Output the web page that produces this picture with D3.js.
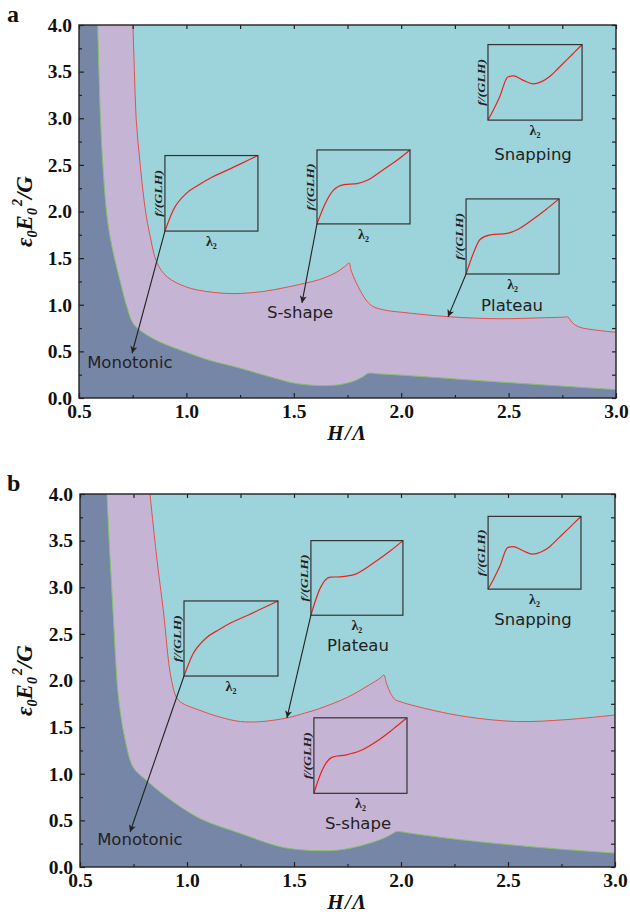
<!DOCTYPE html>
<html>
<head>
<meta charset="utf-8">
<script src="https://cdn.jsdelivr.net/npm/d3@7"></script>
<style>
body { margin: 0; background: #fff; }
svg text { font-family: "Liberation Serif", "Times New Roman", serif; }
.note { font-family: "DejaVu Sans", sans-serif; font-size: 16.5px; fill: #222; }
</style>
</head>
<body>
<svg id="chart" width="630" height="917"></svg>
<script>
var xTicks = [0.5, 1.0, 1.5, 2.0, 2.5, 3.0];
var xMinorTicks = [0.75, 1.25, 1.75, 2.25, 2.75];
var yTicks = [0.0, 0.5, 1.0, 1.5, 2.0, 2.5, 3.0, 3.5, 4.0];
var yMinorTicks = [0.25, 0.75, 1.25, 1.75, 2.25, 2.75, 3.25, 3.75];

// boundary monotonic / S-shape (green) and S-shape / snapping (red), panel a
var greenA = [[0.587, 4.0], [0.600, 3.0], [0.611, 2.5], [0.628, 2.0], [0.643, 1.75], [0.665, 1.5],
    [0.692, 1.25], [0.72, 1.0], [0.752, 0.80], [0.80, 0.70], [0.877, 0.60], [1.0, 0.49], [1.1, 0.41],
    [1.25, 0.32], [1.4, 0.22], [1.5, 0.16], [1.6, 0.135], [1.68, 0.135], [1.74, 0.155], [1.79, 0.19],
    [1.83, 0.24], [1.845, 0.265], [1.9, 0.258], [2.0, 0.245], [2.5, 0.165], [3.0, 0.09]];
var redA = [[0.751, 4.0], [0.758, 3.5], [0.766, 3.0], [0.785, 2.5], [0.81, 2.0], [0.83, 1.75], [0.863, 1.45],
    [0.91, 1.30], [1.0, 1.19], [1.1, 1.14], [1.22, 1.12], [1.35, 1.14], [1.45, 1.18], [1.55, 1.23],
    [1.62, 1.27], [1.7, 1.35], [1.745, 1.425], [1.757, 1.45], [1.768, 1.36], [1.79, 1.24], [1.81, 1.15],
    [1.84, 1.04], [1.87, 0.98], [1.93, 0.94], [2.0, 0.92], [2.23, 0.87], [2.46, 0.85], [2.65, 0.86],
    [2.765, 0.868], [2.775, 0.87], [2.80, 0.80], [2.83, 0.76], [2.9, 0.73], [3.0, 0.705]];

// panel b
var greenB = [[0.626, 4.0], [0.636, 3.5], [0.648, 3.0], [0.66, 2.5], [0.667, 2.2], [0.676, 1.9], [0.689, 1.65],
    [0.712, 1.35], [0.748, 1.07], [0.81, 0.93], [0.905, 0.75], [1.06, 0.52], [1.25, 0.36], [1.43, 0.22], [1.53, 0.185],
    [1.62, 0.175], [1.70, 0.18], [1.78, 0.21], [1.86, 0.26], [1.93, 0.32], [1.97, 0.37], [1.98, 0.38],
    [2.05, 0.36], [2.25, 0.30], [2.5, 0.24], [2.75, 0.19], [3.0, 0.15]];
var redB = [[0.827, 4.0], [0.86, 3.29], [0.889, 2.76], [0.928, 2.0], [0.96, 1.79],
    [1.06, 1.68], [1.15, 1.61], [1.25, 1.56], [1.35, 1.56], [1.47, 1.60], [1.55, 1.65], [1.62, 1.70],
    [1.75, 1.82], [1.85, 1.95], [1.905, 2.03], [1.92, 2.06], [1.932, 1.97], [1.95, 1.87], [1.97, 1.80],
    [2.0, 1.77], [2.15, 1.68], [2.31, 1.61], [2.54, 1.56], [2.77, 1.58], [3.0, 1.63]];

// inset curves, normalised to the inset box (lambda2, f/(GLH))
var insetMonotonic = [[0, 0], [0.09, 0.28], [0.23, 0.5], [0.375, 0.62], [0.5, 0.71], [0.66, 0.8], [0.83, 0.9], [1, 1]];
var insetSShapeA = [[0, 0], [0.09, 0.28], [0.18, 0.46], [0.29, 0.53], [0.43, 0.545], [0.54, 0.59], [0.71, 0.73], [0.86, 0.86], [1, 1]];
var insetPlateauA = [[0, 0], [0.08, 0.28], [0.15, 0.46], [0.26, 0.52], [0.44, 0.54], [0.55, 0.59], [0.72, 0.73], [0.86, 0.86], [1, 1]];
var insetSnapping = [[0, 0], [0.06, 0.14], [0.125, 0.31], [0.21, 0.57], [0.27, 0.585], [0.37, 0.53], [0.48, 0.48],
    [0.57, 0.51], [0.66, 0.58], [0.75, 0.69], [0.84, 0.8], [0.92, 0.9], [1, 1]];
var insetPlateauB = [[0, 0], [0.1, 0.36], [0.21, 0.51], [0.32, 0.515], [0.46, 0.54], [0.68, 0.7], [0.85, 0.85], [1, 1]];
var insetSShapeB = [[0, 0], [0.06, 0.22], [0.13, 0.4], [0.2, 0.48], [0.35, 0.51], [0.49, 0.56], [0.7, 0.71], [0.85, 0.85], [1, 1]];

var colors = { mono: "#7686a7", sshape: "#c5b4d3", snap: "#9dd3da", red: "#e5504c", green: "#86c06e", ink: "#222" };

var svg = d3.select("#chart");
var defs = svg.append("defs");
defs.append("marker")
    .attr("id", "arrow")
    .attr("viewBox", "0 0 10 10")
    .attr("refX", 10)
    .attr("refY", 5)
    .attr("markerWidth", 10)
    .attr("markerHeight", 7)
    .attr("markerUnits", "userSpaceOnUse")
    .attr("orient", "auto")
    .append("path")
    .attr("d", "M0,0L10,5L0,10L2.5,5Z")
    .attr("fill", colors.ink);

function drawInset(g, x, y, inset) {
    var left = x(inset.x0), right = x(inset.x1), top = y(inset.y1), bottom = y(inset.y0);
    var bx = d3.scaleLinear().domain([0, 1]).range([left, right]);
    var by = d3.scaleLinear().domain([0, 1]).range([bottom, top]);

    g.append("path")
        .datum(inset.curve)
        .attr("fill", "none")
        .attr("stroke", "#e8241c")
        .attr("stroke-width", 1.2)
        .attr("d", d3.line().x(function (d) { return bx(d[0]); }).y(function (d) { return by(d[1]); }).curve(d3.curveMonotoneX));

    g.append("rect")
        .attr("x", left)
        .attr("y", top)
        .attr("width", right - left)
        .attr("height", bottom - top)
        .attr("fill", "none")
        .attr("stroke", "#333")
        .attr("stroke-width", 1.2);

    g.append("text")
        .attr("transform", "translate(" + (left - 3) + "," + ((top + bottom) / 2) + ") rotate(-90)")
        .attr("text-anchor", "middle")
        .attr("font-size", 10)
        .attr("font-weight", "bold")
        .attr("font-style", "italic")
        .attr("textLength", 47)
        .attr("lengthAdjust", "spacingAndGlyphs")
        .attr("fill", colors.ink)
        .text("f/(GLH)");

    var lam = g.append("text")
        .attr("x", (left + right) / 2)
        .attr("y", bottom + 15)
        .attr("text-anchor", "middle")
        .attr("font-size", 14)
        .attr("font-weight", "bold")
        .attr("fill", colors.ink);
    lam.append("tspan").text("λ");
    lam.append("tspan").attr("font-size", 8).attr("dy", 3).text("2");

    if (inset.label) {
        g.append("text")
            .attr("class", "note")
            .attr("x", x(inset.label[0]))
            .attr("y", y(inset.label[1]))
            .attr("text-anchor", "middle")
            .text(inset.text);
    }
    if (inset.arrow) {
        g.append("line")
            .attr("x1", left)
            .attr("y1", bottom)
            .attr("x2", x(inset.arrow[0]))
            .attr("y2", y(inset.arrow[1]))
            .attr("stroke", colors.ink)
            .attr("stroke-width", 1.1)
            .attr("marker-end", "url(#arrow)");
    }
}

function regionPath(line, pts, x, y) {
    return line(pts) + "L" + x(3.0) + "," + y(0) + "L" + x(0.5) + "," + y(0) + "L" + x(0.5) + "," + y(4.0) + "Z";
}

function drawPanel(cfg) {
    var x = d3.scaleLinear().domain([0.5, 3.0]).range([cfg.left, cfg.right]);
    var y = d3.scaleLinear().domain([0, 4.0]).range([cfg.bottom, cfg.top]);
    var g = svg.append("g");

    defs.append("clipPath").attr("id", "clip-" + cfg.letter)
        .append("rect")
        .attr("x", cfg.left).attr("y", cfg.top)
        .attr("width", cfg.right - cfg.left).attr("height", cfg.bottom - cfg.top);

    var plot = g.append("g").attr("clip-path", "url(#clip-" + cfg.letter + ")");
    var line = d3.line().x(function (d) { return x(d[0]); }).y(function (d) { return y(d[1]); })
        .curve(d3.curveCatmullRom.alpha(0.5));

    plot.append("rect")
        .attr("x", cfg.left).attr("y", cfg.top)
        .attr("width", cfg.right - cfg.left).attr("height", cfg.bottom - cfg.top)
        .attr("fill", colors.snap);
    plot.append("path").attr("d", regionPath(line, cfg.red, x, y)).attr("fill", colors.sshape);
    plot.append("path").attr("d", regionPath(line, cfg.green, x, y)).attr("fill", colors.mono);
    plot.append("path").attr("d", line(cfg.red)).attr("fill", "none").attr("stroke", colors.red).attr("stroke-width", 1);
    plot.append("path").attr("d", line(cfg.green)).attr("fill", "none").attr("stroke", colors.green).attr("stroke-width", 1);

    cfg.insets.forEach(function (inset) { drawInset(g, x, y, inset); });

    // axes, ticks pointing inward
    var fmt = d3.format(".1f");
    var axes = [
        { axis: d3.axisBottom(x).tickValues(xTicks).tickSize(-5).tickPadding(6).tickFormat(fmt), t: "translate(0," + cfg.bottom + ")" },
        { axis: d3.axisBottom(x).tickValues(xMinorTicks).tickSize(-3).tickFormat(""), t: "translate(0," + cfg.bottom + ")" },
        { axis: d3.axisTop(x).tickValues(xTicks.concat(xMinorTicks)).tickSize(-4).tickFormat(""), t: "translate(0," + cfg.top + ")" },
        { axis: d3.axisLeft(y).tickValues(yTicks).tickSize(-5).tickPadding(7).tickFormat(fmt), t: "translate(" + cfg.left + ",0)" },
        { axis: d3.axisLeft(y).tickValues(yMinorTicks).tickSize(-3).tickFormat(""), t: "translate(" + cfg.left + ",0)" },
        { axis: d3.axisRight(y).tickValues(yTicks.concat(yMinorTicks)).tickSize(-4).tickFormat(""), t: "translate(" + cfg.right + ",0)" }
    ];
    axes.forEach(function (a) {
        var ag = g.append("g").attr("transform", a.t).call(a.axis.tickSizeOuter(0));
        ag.select(".domain").remove();
        ag.selectAll("line").attr("stroke", "#222").attr("stroke-width", 1.2);
        ag.selectAll("text")
            .attr("font-family", "Liberation Serif, Times New Roman, serif")
            .attr("font-size", 19.5)
            .attr("font-weight", "bold")
            .attr("fill", "#111");
    });

    g.append("rect")
        .attr("x", cfg.left).attr("y", cfg.top)
        .attr("width", cfg.right - cfg.left).attr("height", cfg.bottom - cfg.top)
        .attr("fill", "none")
        .attr("stroke", "#222")
        .attr("stroke-width", 1.4);

    g.append("text")
        .attr("x", 7)
        .attr("y", cfg.top - 3)
        .attr("font-size", 24)
        .attr("font-weight", "bold")
        .attr("fill", "#111")
        .text(cfg.letter);

    g.append("text")
        .attr("x", (cfg.left + cfg.right) / 2)
        .attr("y", cfg.bottom + 42)
        .attr("text-anchor", "middle")
        .attr("font-size", 21)
        .attr("font-weight", "bold")
        .attr("font-style", "italic")
        .attr("letter-spacing", 1.5)
        .attr("fill", "#111")
        .text("H/Λ");

    var yt = g.append("text")
        .attr("transform", "translate(" + 32 + "," + ((cfg.top + cfg.bottom) / 2) + ") rotate(-90)")
        .attr("text-anchor", "middle")
        .attr("font-size", 23)
        .attr("font-weight", "bold")
        .attr("font-style", "italic")
        .attr("fill", "#111");
    yt.append("tspan").text("ε");
    yt.append("tspan").attr("font-size", 14).attr("dy", 5).text("0");
    yt.append("tspan").attr("dy", -5).text("E");
    yt.append("tspan").attr("font-size", 14).attr("dy", 5).text("0");
    yt.append("tspan").attr("font-size", 14).attr("dy", -15).attr("dx", 2).text("2");
    yt.append("tspan").attr("dy", 10).text("/G");
}

drawPanel({
    letter: "a", left: 79, right: 616, top: 25, bottom: 398,
    green: greenA, red: redA,
    insets: [
        { curve: insetMonotonic, x0: 0.900, x1: 1.333, y0: 1.79, y1: 2.60, text: "Monotonic", label: [0.737, 0.32], arrow: [0.747, 0.48] },
        { curve: insetSShapeA, x0: 1.608, x1: 2.041, y0: 1.867, y1: 2.66, text: "S-shape", label: [1.529, 0.86], arrow: [1.538, 1.02] },
        { curve: insetPlateauA, x0: 2.302, x1: 2.735, y0: 1.33, y1: 2.135, text: "Plateau", label: [2.516, 0.93], arrow: [2.218, 0.87] },
        { curve: insetSnapping, x0: 2.404, x1: 2.842, y0: 2.98, y1: 3.79, text: "Snapping", label: [2.614, 2.55] }
    ]
});

drawPanel({
    letter: "b", left: 80, right: 615, top: 494, bottom: 867,
    green: greenB, red: redB,
    insets: [
        { curve: insetMonotonic, x0: 0.986, x1: 1.425, y0: 2.048, y1: 2.853, text: "Monotonic", label: [0.780, 0.236], arrow: [0.734, 0.375] },
        { curve: insetPlateauB, x0: 1.579, x1: 2.009, y0: 2.70, y1: 3.50, text: "Plateau", label: [1.799, 2.316], arrow: [1.467, 1.60] },
        { curve: insetSnapping, x0: 2.407, x1: 2.841, y0: 2.98, y1: 3.76, text: "Snapping", label: [2.617, 2.595] },
        { curve: insetSShapeB, x0: 1.593, x1: 2.028, y0: 0.79, y1: 1.60, text: "S-shape", label: [1.799, 0.405] }
    ]
});
</script>
</body>
</html>
